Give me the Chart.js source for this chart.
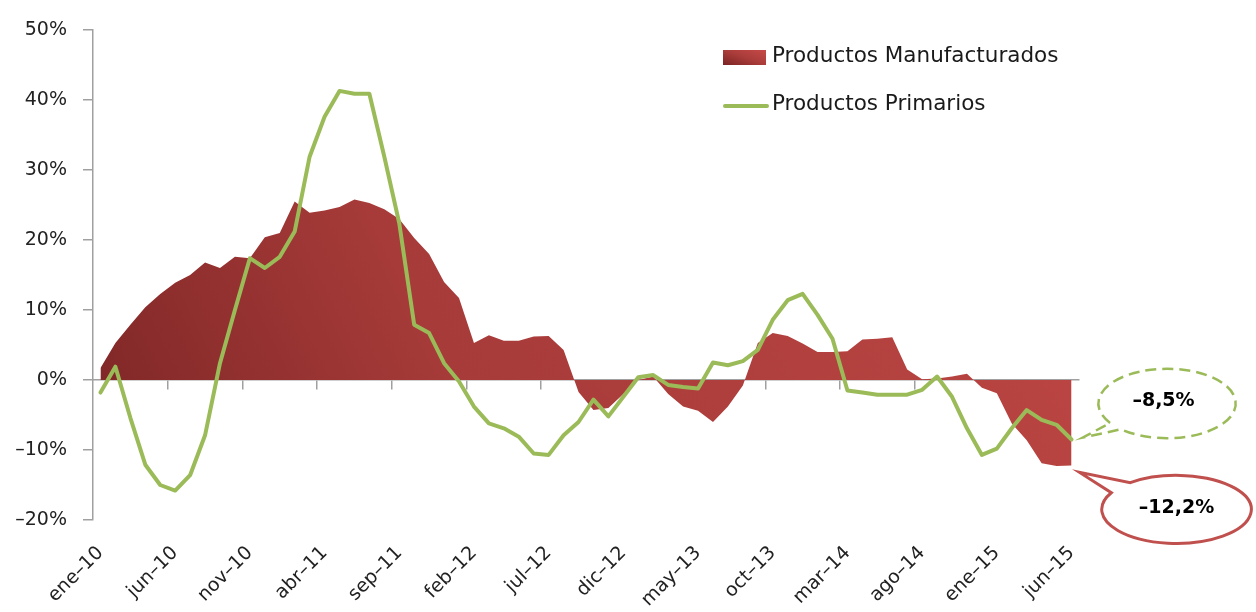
<!DOCTYPE html>
<html>
<head>
<meta charset="utf-8">
<script src="https://cdn.jsdelivr.net/npm/chart.js@4.4.1/dist/chart.umd.min.js"></script>
<style>
html,body{margin:0;padding:0;background:#fff;}
#wrap{position:relative;width:1256px;height:612px;overflow:hidden;}
#c{position:absolute;left:0;top:0;}
.legtxt{position:absolute;font-family:"DejaVu Sans",sans-serif;font-size:21.5px;line-height:21.5px;color:#1a1a1a;white-space:nowrap;}
#sw1{position:absolute;left:723px;top:50px;width:43px;height:15px;background:linear-gradient(20deg,#7a2323 0%,#a93c3a 50%,#c64a47 100%);}
#sw2{position:absolute;left:723px;top:104px;width:46px;height:4px;border-radius:2px;background:#9bbb59;}
</style>
</head>
<body>
<div id="wrap">
  <canvas id="c" width="1256" height="612"></canvas>
  <div id="sw1"></div>
  <div class="legtxt" id="l1" style="left:772px;top:43.5px;"></div>
  <div id="sw2"></div>
  <div class="legtxt" id="l2" style="left:772px;top:91.5px;"></div>
</div>
<script>
// ---- data ----
const monthNames = ['ene','feb','mar','abr','may','jun','jul','ago','sep','oct','nov','dic'];
const years = ['10','11','12','13','14','15'];
const categories = [];
for (const y of years) for (const m of monthNames) { if (categories.length < 66) categories.push(m + '–' + y); }

const seriesNames = ['Productos Manufacturados', 'Productos Primarios'];

const manufacturados = [
  1.7, 5.3, 7.9, 10.4, 12.3, 13.9, 15.0, 16.8, 16.0, 17.6,
  17.4, 20.4, 21.0, 25.5, 23.9, 24.2, 24.7, 25.8, 25.3, 24.4,
  23.0, 20.3, 18.0, 14.0, 11.7, 5.3, 6.4, 5.6, 5.6, 6.2,
  6.3, 4.3, -1.7, -4.3, -4.0, -2.0, 0.0, 0.5, -2.0, -3.8,
  -4.4, -6.0, -3.8, -0.8, 5.3, 6.7, 6.3, 5.2, 4.0, 4.0,
  4.1, 5.8, 5.9, 6.1, 1.5, 0.1, 0.2, 0.5, 0.9, -1.1,
  -1.9, -6.2, -8.6, -11.9, -12.3, -12.2
];

const primarios = [
  -1.8, 1.9, -5.4, -12.1, -15.0, -15.8, -13.6, -7.9, 2.4, 10.0,
  17.4, 16.0, 17.6, 21.2, 31.9, 37.6, 41.3, 40.9, 40.9, 31.9,
  22.4, 7.9, 6.7, 2.4, -0.2, -3.8, -6.2, -6.9, -8.1, -10.5,
  -10.7, -7.9, -6.0, -2.8, -5.2, -2.4, 0.4, 0.7, -0.7, -1.0,
  -1.2, 2.5, 2.1, 2.7, 4.3, 8.6, 11.4, 12.3, 9.3, 5.9,
  -1.5, -1.8, -2.1, -2.1, -2.1, -1.4, 0.5, -2.4, -6.9, -10.7,
  -9.8, -6.9, -4.3, -5.7, -6.4, -8.5
];

const yMin = -20, yMax = 50, yStep = 10;
const labelEvery = 5;

document.getElementById('l1').textContent = seriesNames[0];
document.getElementById('l2').textContent = seriesNames[1];

const FONT = '"DejaVu Sans", sans-serif';
const AXIS = '#a0a0a0';

function fmtPct(v) {
  const s = Math.abs(v).toFixed(1).replace('.', ',');
  return (v < 0 ? '–' : '') + s + '%';
}

function redGradient(context) {
  const chart = context.chart;
  const a = chart.chartArea;
  if (!a) return '#a53b39';
  const g = chart.ctx.createLinearGradient(a.left, a.bottom, a.right, a.top);
  g.addColorStop(0, '#7a2424');
  g.addColorStop(0.35, '#a63b39');
  g.addColorStop(1, '#bf4744');
  return g;
}

function drawCallout(ctx, o) {
  ctx.save();
  ctx.beginPath();
  ctx.ellipse(o.cx, o.cy, o.rx, o.ry, 0, o.a0 * Math.PI / 180, o.a1 * Math.PI / 180);
  ctx.lineTo(o.tx, o.ty);
  ctx.closePath();
  ctx.fillStyle = '#ffffff';
  ctx.fill();
  ctx.setLineDash(o.dash);
  ctx.lineWidth = o.lw;
  ctx.strokeStyle = o.color;
  ctx.lineJoin = 'miter';
  ctx.stroke();
  ctx.setLineDash([]);
  ctx.fillStyle = '#000';
  ctx.font = 'bold 19px ' + FONT;
  ctx.textAlign = 'center';
  ctx.textBaseline = 'middle';
  ctx.fillText(o.text, o.lx, o.ly);
  ctx.restore();
}

const calloutPlugin = {
  id: 'callouts',
  afterDraw(chart) {
    const ctx = chart.ctx;
    const mRed = chart.getDatasetMeta(0).data;
    const mGreen = chart.getDatasetMeta(1).data;
    const pr = mRed[mRed.length - 1];
    const pg = mGreen[mGreen.length - 1];
    drawCallout(ctx, {
      cx: pg.x + 95.5, cy: pg.y - 36, rx: 68.7, ry: 34.7, a0: 146, a1: 492,
      tx: pg.x + 11.5, ty: pg.y - 2, color: '#9bbb59', dash: [11, 6], lw: 2.5,
      text: fmtPct(primarios[primarios.length - 1]), lx: pg.x + 92, ly: pg.y - 38
    });
    drawCallout(ctx, {
      cx: pr.x + 105, cy: pr.y + 44, rx: 74.8, ry: 34, a0: 231.8, a1: 569.3,
      tx: pr.x + 8, ty: pr.y + 7, color: '#c0504d', dash: [], lw: 3,
      text: fmtPct(manufacturados[manufacturados.length - 1]), lx: pr.x + 105, ly: pr.y + 43
    });
  }
};

new Chart(document.getElementById('c'), {
  type: 'line',
  data: {
    labels: categories,
    datasets: [
      {
        label: seriesNames[0],
        data: manufacturados,
        xAxisID: 'x', yAxisID: 'y',
        fill: 'origin',
        backgroundColor: redGradient,
        borderColor: 'rgba(0,0,0,0)',
        borderWidth: 0,
        pointRadius: 0,
        tension: 0,
        order: 2
      },
      {
        label: seriesNames[1],
        data: primarios,
        xAxisID: 'x', yAxisID: 'y',
        fill: false,
        borderColor: '#9bbb59',
        borderWidth: 4,
        borderJoinStyle: 'round',
        borderCapStyle: 'round',
        pointRadius: 0,
        tension: 0,
        order: 1
      }
    ]
  },
  options: {
    responsive: false,
    animation: false,
    devicePixelRatio: 1,
    layout: { padding: { left: 0, right: 177, top: 30, bottom: 0 } },
    plugins: { legend: { display: false }, tooltip: { enabled: false } },
    scales: {
      x: {
        type: 'category',
        position: 'bottom',
        offset: true,
        grid: { display: false, drawTicks: false },
        border: { display: false },
        ticks: {
          autoSkip: false, maxRotation: 45, minRotation: 45, padding: 22,
          color: '#222', font: { family: FONT, size: 19 },
          callback: function (v, i) { return i % labelEvery === 0 ? this.getLabelForValue(v) : ''; }
        },
        afterFit: s => { s.height = 92; }
      },
      x2: {
        type: 'category',
        axis: 'x',
        position: { y: 0 },
        offset: true,
        grid: {
          drawOnChartArea: false, drawTicks: true, tickLength: 9, offset: true, lineWidth: 1.5,
          tickColor: ctx => (ctx.index > 0 && ctx.index % labelEvery === 0) ? AXIS : 'rgba(0,0,0,0)'
        },
        border: { display: true, color: AXIS, width: 1.5 },
        ticks: { display: false, autoSkip: false }
      },
      y: {
        min: yMin, max: yMax,
        position: 'left',
        ticks: {
          stepSize: yStep, padding: 16, color: '#222', font: { family: FONT, size: 19 },
          callback: v => (v < 0 ? '–' + Math.abs(v) : v) + '%'
        },
        grid: { drawOnChartArea: false, drawTicks: true, tickLength: 10, color: AXIS, lineWidth: 1.5 },
        border: { display: true, color: AXIS, width: 1.5 },
        afterFit: s => { s.width = 93; }
      }
    }
  },
  plugins: [calloutPlugin]
});
</script>
</body>
</html>
